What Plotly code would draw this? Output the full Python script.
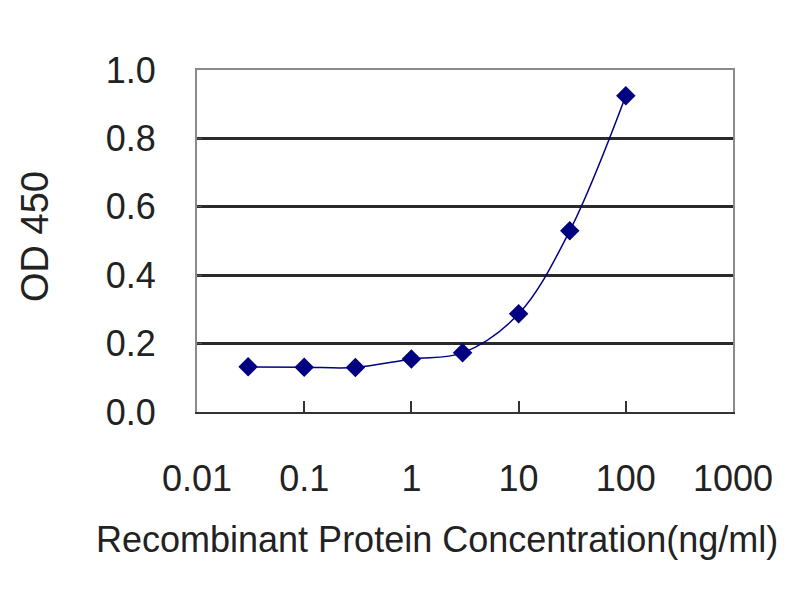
import plotly.graph_objects as go

# --- DATA ---
concentration = [0.03, 0.1, 0.3, 1, 3, 10, 30, 100]
od450 = [0.132, 0.131, 0.130, 0.155, 0.173, 0.287, 0.530, 0.925]

x_tickvals = [0.01, 0.1, 1, 10, 100, 1000]
x_ticktext = ["0.01", "0.1", "1", "10", "100", "1000"]
y_tickvals = [0.0, 0.2, 0.4, 0.6, 0.8, 1.0]
y_ticktext = ["0.0", "0.2", "0.4", "0.6", "0.8", "1.0"]
grid_vals = [0.2, 0.4, 0.6, 0.8]

FONT = "Liberation Sans, Arial, sans-serif"
TEXT_COLOR = "#222222"
NAVY = "#000080"


def main():
    fig = go.Figure()

    # dummy trace on the overlay axes so they render
    fig.add_trace(go.Scatter(
        x=[x_tickvals[0]], y=[y_tickvals[0]],
        xaxis="x2", yaxis="y2",
        mode="markers", marker=dict(opacity=0),
        showlegend=False, hoverinfo="skip",
    ))

    fig.add_trace(go.Scatter(
        x=concentration,
        y=od450,
        mode="lines+markers",
        line=dict(color=NAVY, width=1.5, shape="spline", smoothing=1),
        marker=dict(symbol="diamond", size=15, color=NAVY),
        showlegend=False,
    ))

    # page body adds an 8px offset, so margins are shifted to compensate
    fig.update_layout(
        width=800,
        height=600,
        paper_bgcolor="white",
        plot_bgcolor="white",
        margin=dict(l=189, r=75, t=62, b=196),
        font=dict(family=FONT, size=36, color=TEXT_COLOR),
        xaxis=dict(
            type="log",
            range=[-2, 3],
            tickvals=x_tickvals,
            ticktext=x_ticktext,
            ticks="inside",
            ticklen=11,
            tickwidth=1.5,
            tickcolor="#333333",
            showline=True,
            linecolor="#333333",
            linewidth=1.5,
            showgrid=False,
            zeroline=False,
            automargin=False,
            ticklabelstandoff=34,
        ),
        yaxis=dict(
            range=[0, 1.0],
            tickvals=y_tickvals,
            ticktext=y_ticktext,
            ticks="inside",
            ticklen=5,
            tickcolor="#555555",
            showline=True,
            mirror=True,
            linecolor="#8a8a8a",
            linewidth=2,
            showgrid=False,
            zeroline=False,
            automargin=False,
            ticklabelstandoff=32,
        ),
        # top border
        xaxis2=dict(
            type="log",
            range=[-2, 3],
            overlaying="x",
            side="top",
            showline=True,
            linecolor="#8a8a8a",
            linewidth=2,
            showticklabels=False,
            ticks="",
            showgrid=False,
            zeroline=False,
            automargin=False,
        ),
        # horizontal gridlines
        yaxis2=dict(
            range=[0, 1.0],
            overlaying="y",
            tickvals=grid_vals,
            showticklabels=False,
            ticks="",
            showgrid=True,
            gridcolor="#2a2a2a",
            gridwidth=3,
            showline=False,
            zeroline=False,
            automargin=False,
        ),
        annotations=[
            dict(
                text="Recombinant Protein Concentration(ng/ml)",
                xref="paper", yref="paper",
                x=0.448, y=-0.374,
                xanchor="center", yanchor="middle",
                showarrow=False,
                font=dict(family=FONT, size=36, color=TEXT_COLOR),
            ),
            dict(
                text="OD 450",
                xref="paper", yref="paper",
                x=-0.302, y=0.512,
                xanchor="center", yanchor="middle",
                textangle=-90,
                showarrow=False,
                font=dict(family=FONT, size=38, color=TEXT_COLOR),
            ),
        ],
    )

    fig.write_html("out.html")


if __name__ == "__main__":
    main()
